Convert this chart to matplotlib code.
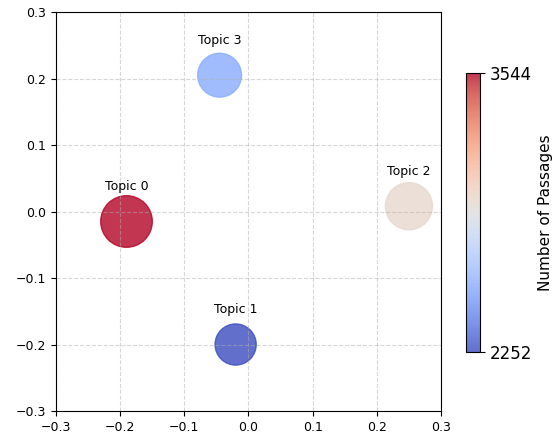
import numpy as np
import matplotlib
matplotlib.use("Agg")
import matplotlib.pyplot as plt

topics = ["Topic 0", "Topic 1", "Topic 2", "Topic 3"]
x = [-0.19, -0.02, 0.25, -0.045]
y = [-0.015, -0.2, 0.008, 0.205]
passages = [3544, 2252, 2950, 2560]

fig = plt.figure(figsize=(5.59, 4.37), dpi=100)
ax = fig.add_axes([0.1, 0.0595, 0.689, 0.913])
cax = fig.add_axes([0.834, 0.1945, 0.025, 0.638])

sizes = np.array(passages) * 0.39
sc = ax.scatter(x, y, s=sizes, c=passages, cmap="coolwarm", alpha=0.8,
                vmin=min(passages), vmax=max(passages))
for t, xi, yi in zip(topics, x, y):
    ax.text(xi, yi + 0.052, t, ha="center", va="center", fontsize=9)

ax.set_xlim(-0.3, 0.3)
ax.set_ylim(-0.3, 0.3)
ax.set_xticks(np.arange(-0.3, 0.31, 0.1))
ax.set_yticks(np.arange(-0.3, 0.31, 0.1))
ax.tick_params(labelsize=9)
ax.grid(True, linestyle="--", alpha=0.5)

cb = fig.colorbar(sc, cax=cax, ticks=[min(passages), max(passages)])
cb.ax.tick_params(labelsize=12)
cb.set_label("Number of Passages", fontsize=11)

fig.savefig("out.png", dpi=100)
